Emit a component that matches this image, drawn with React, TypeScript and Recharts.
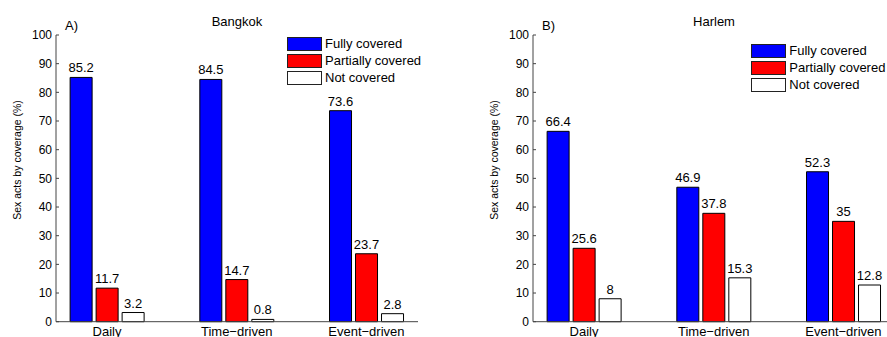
import { BarChart, Bar, XAxis, YAxis, LabelList, Legend } from "recharts";

// categories and series values
const categories = ["Daily", "Time\u2212driven", "Event\u2212driven"];
const categoryPos = [1, 2, 3];
const seriesNames = ["Fully covered", "Partially covered", "Not covered"];
const seriesColors = ["#0000ff", "#ff0000", "#ffffff"];

const bangkokFully = [85.2, 84.5, 73.6];
const bangkokPartial = [11.7, 14.7, 23.7];
const bangkokNot = [3.2, 0.8, 2.8];

const harlemFully = [66.4, 46.9, 52.3];
const harlemPartial = [25.6, 37.8, 35];
const harlemNot = [8, 15.3, 12.8];

const yTicks = [0, 10, 20, 30, 40, 50, 60, 70, 80, 90, 100];

const FONT = '"Liberation Sans", Arial, Helvetica, sans-serif';

const buildRows = (a: number[], b: number[], c: number[]) =>
  categoryPos.map((x, i) => ({ x, fully: a[i], partial: b[i], not: c[i] }));

const bangkokRows = buildRows(bangkokFully, bangkokPartial, bangkokNot);
const harlemRows = buildRows(harlemFully, harlemPartial, harlemNot);

const YTick = (props: any) => {
  const { x, y, payload } = props;
  return (
    <g>
      <line x1={x + 4} x2={x + 7} y1={y} y2={y} stroke="#444" />
      <text x={x} y={y} dy="0.35em" textAnchor="end" fontSize={12} fontFamily={FONT} fill="#000">
        {payload.value}
      </text>
    </g>
  );
};

const LegendBox = () => (
  <div style={{ fontFamily: FONT, fontSize: 13, lineHeight: "17px" }}>
    {seriesNames.map((name, i) => (
      <div key={name} style={{ display: "flex", alignItems: "center", height: 17 }}>
        <div
          style={{
            width: 33,
            height: 12,
            background: seriesColors[i],
            border: "1px solid #222",
            marginRight: 3,
          }}
        />
        <span style={{ color: "#000", whiteSpace: "nowrap" }}>{name}</span>
      </div>
    ))}
  </div>
);

interface PanelProps {
  left: number;
  letter: string;
  title: string;
  rows: { x: number; fully: number; partial: number; not: number }[];
  legendLeft: number;
  legendTop: number;
}

const Panel = ({ left, letter, title, rows, legendLeft, legendTop }: PanelProps) => {
  const keys = ["fully", "partial", "not"];
  return (
    <div style={{ position: "absolute", left, top: 0, width: 443, height: 337 }}>
      <BarChart
        width={443}
        height={337}
        data={rows}
        margin={{ top: 35, right: 25, bottom: 0, left: 0 }}
        barGap={4}
        barSize={22}
      >
        <XAxis
          dataKey="x"
          type="number"
          domain={[0.607, 3.398]}
          allowDataOverflow
          ticks={categoryPos}
          interval={0}
          tickFormatter={(v: number) => categories[v - 1]}
          height={15.3}
          tickSize={0}
          tickMargin={5}
          tickLine={false}
          axisLine={{ stroke: "#444" }}
          tick={{ fontSize: 13, fontFamily: FONT, fill: "#000" }}
        />
        <YAxis
          type="number"
          domain={[0, 100]}
          ticks={yTicks}
          interval={0}
          width={56}
          tickSize={0}
          tickMargin={4}
          tickLine={false}
          axisLine={{ stroke: "#444" }}
          tick={<YTick />}
        />
        <Legend
          layout="vertical"
          align="center"
          verticalAlign="middle"
          wrapperStyle={{ left: legendLeft, top: legendTop, width: 140 }}
          content={() => <LegendBox />}
        />
        {keys.map((k, i) => (
          <Bar
            key={k}
            dataKey={k}
            name={seriesNames[i]}
            fill={seriesColors[i]}
            stroke="#000"
            strokeWidth={1}
            isAnimationActive={false}
          >
            <LabelList
              dataKey={k}
              position="top"
              offset={5}
              style={{ fontSize: 13, fontFamily: FONT, fill: "#000" }}
            />
          </Bar>
        ))}
      </BarChart>
      <svg width={443} height={337} style={{ position: "absolute", left: 0, top: 0, pointerEvents: "none" }}>
        <text x={65} y={25} dy="0.35em" fontSize={13} fontFamily={FONT}>
          {letter}
        </text>
        <text x={237} y={21} dy="0.35em" textAnchor="middle" fontSize={13} fontFamily={FONT}>
          {title}
        </text>
        <text
          x={17.5}
          y={160}
          dy="0.35em"
          textAnchor="middle"
          fontSize={10.5}
          fontFamily={FONT}
          transform="rotate(-90 17.5 160)"
        >
          Sex acts by coverage (%)
        </text>
      </svg>
    </div>
  );
};

export default function App() {
  return (
    <div
      style={{
        position: "fixed",
        left: 0,
        top: 0,
        width: 887,
        height: 337,
        overflow: "hidden",
        background: "#fff",
      }}
    >
      <Panel left={0} letter="A)" title="Bangkok" rows={bangkokRows} legendLeft={287} legendTop={35} />
      <Panel left={477.3} letter="B)" title="Harlem" rows={harlemRows} legendLeft={274} legendTop={42} />
    </div>
  );
}
